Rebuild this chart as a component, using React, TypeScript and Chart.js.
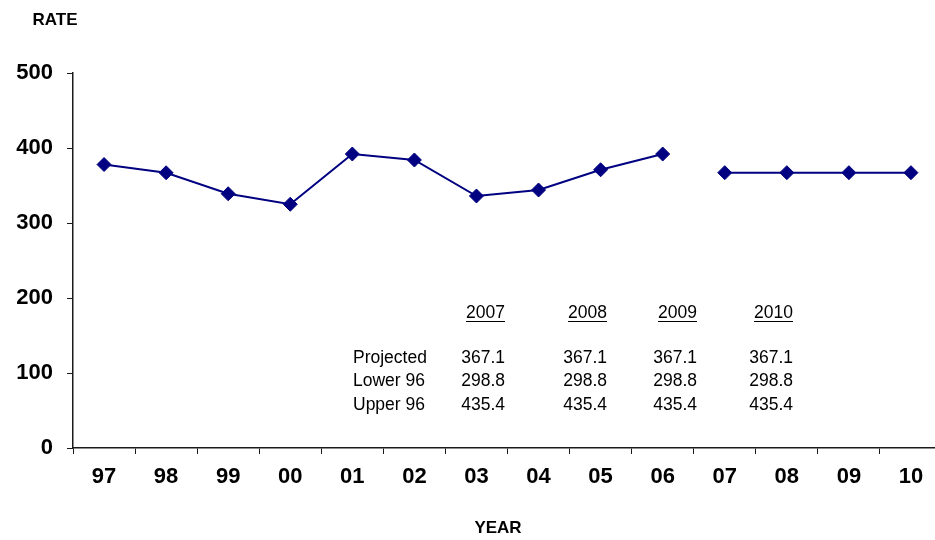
import React, { useEffect, useRef } from "react";
import { Chart, registerables } from "chart.js";

Chart.register(...registerables);

const yearLabels = ["97", "98", "99", "00", "01", "02", "03", "04", "05", "06", "07", "08", "09", "10"];
const actualRates = [378, 367, 339, 325, 392, 384, 336, 344, 371, 392, null, null, null, null];
const projectedRates = [null, null, null, null, null, null, null, null, null, null, 367.1, 367.1, 367.1, 367.1];

const tableYears = ["2007", "2008", "2009", "2010"];
const tableRowLabels = ["Projected", "Lower 96", "Upper 96"];
const projectedRow = ["367.1", "367.1", "367.1", "367.1"];
const lower96Row = ["298.8", "298.8", "298.8", "298.8"];
const upper96Row = ["435.4", "435.4", "435.4", "435.4"];

const NAVY = "#000080";
const AXIS = "#1a1a1a";
const FONT = '"Liberation Sans", Arial, Helvetica, sans-serif';

const annotationPlugin = {
  id: "annotations",
  afterDraw(chart: any) {
    const ctx = chart.ctx;
    ctx.save();
    ctx.fillStyle = "#000";
    // Axis titles
    ctx.font = `bold 17px ${FONT}`;
    ctx.textAlign = "center";
    ctx.textBaseline = "middle";
    ctx.fillText("RATE", 55, 20);
    ctx.fillText("YEAR", 498, 528);

    // Table
    const colRights = [505, 607, 697, 793];
    const rowYs = [358, 381, 405];
    ctx.font = `17.5px ${FONT}`;
    ctx.textBaseline = "middle";
    ctx.textAlign = "right";
    ctx.strokeStyle = "#000";
    ctx.lineWidth = 1;
    tableYears.forEach((y, i) => {
      ctx.fillText(y, colRights[i], 313);
      const w = ctx.measureText(y).width;
      ctx.beginPath();
      ctx.moveTo(colRights[i] - w, 321.5);
      ctx.lineTo(colRights[i], 321.5);
      ctx.stroke();
    });
    const rows = [projectedRow, lower96Row, upper96Row];
    rows.forEach((row, r) => {
      ctx.textAlign = "left";
      ctx.fillText(tableRowLabels[r], 353, rowYs[r]);
      ctx.textAlign = "right";
      row.forEach((v, i) => ctx.fillText(v, colRights[i], rowYs[r]));
    });
    ctx.restore();
  },
};

export default function App() {
  const ref = useRef<HTMLCanvasElement | null>(null);
  useEffect(() => {
    if (!ref.current) return;
    const chart = new Chart(ref.current, {
      type: "line",
      data: {
        labels: yearLabels,
        datasets: [
          {
            label: "Actual",
            data: actualRates,
            borderColor: NAVY,
            backgroundColor: NAVY,
            borderWidth: 2,
            pointStyle: "rectRot",
            pointRadius: 7,
            pointBorderWidth: 1,
            spanGaps: false,
          },
          {
            label: "Projected",
            data: projectedRates,
            borderColor: NAVY,
            backgroundColor: NAVY,
            borderWidth: 2,
            pointStyle: "rectRot",
            pointRadius: 7,
            pointBorderWidth: 1,
            spanGaps: false,
          },
        ],
      },
      options: {
        responsive: false,
        animation: false,
        layout: { padding: { left: 0, top: 73, right: 18, bottom: 0 } },
        plugins: { legend: { display: false }, tooltip: { enabled: false }, title: { display: false } },
        scales: {
          x: {
            offset: true,
            grid: {
              offset: true,
              drawOnChartArea: false,
              drawTicks: true,
              tickLength: 6,
              tickColor: AXIS,
              tickWidth: 1,
              color: AXIS,
            },
            border: { display: true, color: AXIS, width: 1.5 },
            ticks: {
              color: "#000",
              font: { family: FONT, size: 22, weight: "bold" },
              padding: 10,
              maxRotation: 0,
              autoSkip: false,
            },
            afterFit: (scale: any) => {
              scale.height = 92;
            },
          },
          y: {
            min: 0,
            max: 500,
            grid: {
              drawOnChartArea: false,
              drawTicks: true,
              tickLength: 6,
              tickColor: AXIS,
              tickWidth: 1,
              color: AXIS,
            },
            border: { display: true, color: AXIS, width: 1.5 },
            ticks: {
              stepSize: 100,
              color: "#000",
              font: { family: FONT, size: 22, weight: "bold" },
              padding: 14,
            },
            afterFit: (scale: any) => {
              scale.width = 73;
            },
          },
        },
      },
      plugins: [annotationPlugin],
    });
    return () => chart.destroy();
  }, []);
  return (
    <div style={{ position: "fixed", left: 0, top: 0, width: 935, height: 540, overflow: "hidden", background: "#fff" }}>
      <canvas ref={ref} width={960} height={540} style={{ display: "block" }} />
    </div>
  );
}
